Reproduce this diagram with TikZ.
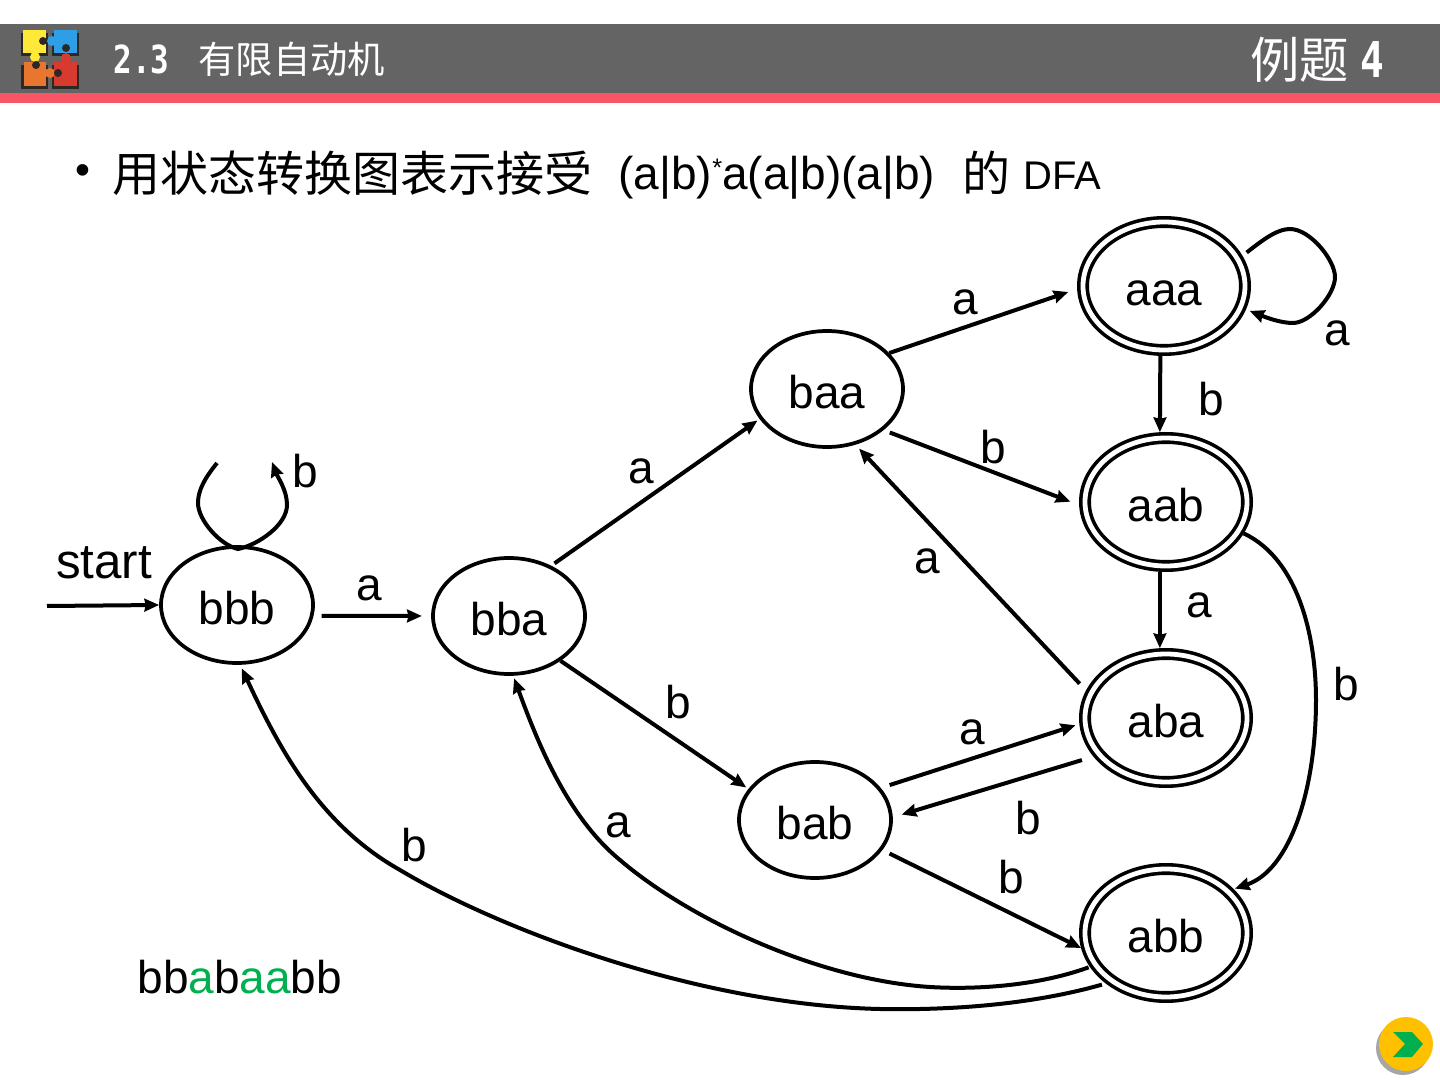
\documentclass[tikz,border=0pt]{standalone}
\usepackage{fontspec}
\setmainfont{Liberation Sans}
\newfontfamily\cjk{Noto Sans CJK SC}
\newfontfamily\headnum{DejaVu Sans Mono}
\usetikzlibrary{arrows.meta,shapes.geometric}
\definecolor{headgray}{RGB}{100,100,100}
\definecolor{headred}{RGB}{248,85,103}
\definecolor{wingreen}{RGB}{0,176,80}
\definecolor{btnorange}{RGB}{255,192,0}
\definecolor{logoyellow}{RGB}{255,232,56}
\definecolor{logoblue}{RGB}{46,159,230}
\definecolor{logoorange}{RGB}{232,118,47}
\definecolor{logored}{RGB}{216,58,48}
\definecolor{logoshadow}{RGB}{45,40,35}
\tikzset{every picture/.style={line width=0.75pt}}
\tikzset{
state/.style={draw,ellipse,line width=2.8pt,minimum width=114pt,minimum height=87pt,inner sep=0pt,outer sep=1.4pt,font=\fontsize{34.5}{38}\selectfont,text height=29pt,text depth=0pt},
accept/.style={draw,ellipse,line width=2.7pt,double,double distance=3.6pt,minimum width=121.5pt,minimum height=96pt,inner sep=0pt,outer sep=4.5pt,font=\fontsize{34.5}{38}\selectfont,text height=29pt,text depth=0pt},
edge/.style={-{Stealth[length=11pt,width=9.5pt,inset=1pt]},line width=3pt,shorten <=4pt,shorten >=5pt},
lab/.style={inner sep=0pt,font=\fontsize{34.5}{38}\selectfont},
headtext/.style={inner sep=0pt,text=white,font=\cjk\fontsize{28}{32}\selectfont},
titletext/.style={inner sep=0pt,font=\cjk\fontsize{36}{40}\selectfont}
}

\begin{document}
\begin{tikzpicture}[x=0.75pt,y=0.75pt,yscale=-1]
\useasboundingbox (0,0) rectangle (1440,1080);

%Header bar
\fill [headgray] (0,24) rectangle (1440,93);
\fill [headred] (0,93) rectangle (1440,103);

%Logo
\fill [logoshadow] (21,33) rectangle (48,56);
\fill [logoshadow] (52,33) rectangle (79,56);
\fill [logoshadow] (21,65) rectangle (48,89);
\fill [logoshadow] (52,65) rectangle (79,89);
\fill [logoyellow] (23,30) rectangle (46,53);
\fill [logoblue] (54,30) rectangle (77,53);
\fill [logoorange] (24,62) rectangle (46,86);
\fill [logored] (54,62) rectangle (77,86);
\fill [logoblue] (52,41) circle (5);
\fill [logoyellow] (35,57) circle (5);
\fill [logored] (66,58) circle (5);
\fill [logoorange] (50,73) circle (5);
\fill [logoshadow] (43,41) circle (4);
\fill [logoshadow] (36,65) circle (4);
\fill [logoshadow] (66,48) circle (4);
\fill [logoshadow] (58,73) circle (4);

% Text Node
\node (secnum) [headtext,anchor=base west,font=\headnum\bfseries\fontsize{29}{32}\selectfont] at (113,74) {\scalebox{0.8}[1]{2.3}};
\node (sectitle) [headtext,anchor=west] at (198,59) {有限自动机};
\node (example) [headtext,anchor=west,font=\cjk\fontsize{37}{40}\selectfont] at (1250,60) {例题};
\node (examplenum) [headtext,anchor=base east,font=\headnum\bfseries\fontsize{37}{40}\selectfont] at (1385,78) {\scalebox{0.8}[1]{4}};

% Text Node
\node (bullet) [inner sep=0pt,font=\fontsize{32}{36}\selectfont] at (83,175) {•};
\node (title) [titletext,anchor=base west] at (112,192) {用状态转换图表示接受};
\node (regex) [inner sep=0pt,anchor=base west,font=\fontsize{34.5}{38}\selectfont] at (618,190) {(a|b)\raisebox{10pt}{\fontsize{19}{20}\selectfont *}a(a|b)(a|b)};
\node (titlede) [titletext,anchor=base west] at (962,192) {的};
\node (dfa) [inner sep=0pt,anchor=base west,font=\fontsize{30}{34}\selectfont] at (1023,190) {DFA};

%Shape: Ellipse
\node (bbb) [state] at (237,605) {bbb};
\node (bba) [state] at (509,616) {bba};
\node (baa) [state] at (827,389) {baa};
\node (bab) [state] at (815,820) {bab};
\node (aaa) [accept] at (1164,286) {aaa};
\node (aab) [accept] at (1166,502) {aab};
\node (aba) [accept] at (1166,718) {aba};
\node (abb) [accept] at (1166,933) {abb};

%Free ends
\coordinate (startin) at (47,606);
\coordinate (loopa) at (217,463);
\coordinate (loopb) at (272,462);

%Straight Lines
\draw [edge,shorten <=0pt,shorten >=0pt] (startin) -- (bbb.west);
\draw [edge,shorten <=6pt,shorten >=7pt] (bbb.-8) -- (bba.180);
\draw [edge,shorten <=3pt,shorten >=2pt] (bba.50) -- (baa.204);
\draw [edge,shorten <=0pt,shorten >=2pt] (bba.-41) -- (bab.155);
\draw [edge,shorten <=0pt,shorten >=7pt] (baa.30) -- (aaa.182);
\draw [edge,shorten <=5pt,shorten >=7pt] (baa.-36) -- (aab.182);
\draw [edge,shorten <=0pt,shorten >=0pt] (aaa.-93) -- (aab.95);
\draw [edge,shorten <=0pt,shorten >=0pt] (aab.-95) -- (aba.95);
\draw [edge,shorten <=7pt,shorten >=4pt] (aba.161) -- (baa.-63);
\draw [edge,shorten <=9pt,shorten >=7pt] (aba.208) -- (bab.2);
\draw [edge,shorten <=7pt,shorten >=3pt] (bab.26) -- (aba.184);
\draw [edge,shorten <=6pt,shorten >=0pt] (bab.-24) -- (abb.190);

%Curve Lines
\draw [edge,shorten <=0pt,shorten >=1pt] (aab.-22) .. controls (1300,560) and (1316,640) .. (1316,700) .. controls (1316,790) and (1290,870) .. (abb.33);
\draw [edge,shorten <=1pt,shorten >=2pt] (abb.204) .. controls (1040,985) and (980,990) .. (930,987) .. controls (820,980) and (690,920) .. (620,860) .. controls (565,815) and (535,735) .. (bba.-86);
\draw [edge,shorten <=3pt,shorten >=3pt] (abb.220) .. controls (1020,1008) and (930,1010) .. (880,1009) .. controls (700,1005) and (500,930) .. (400,870) .. controls (320,825) and (280,750) .. (bbb.-87);
\draw [edge,shorten <=0pt,shorten >=0pt] (loopa) .. controls (205,478) and (198,490) .. (198,503) .. controls (198,520) and (220,545) .. (238,549) .. controls (258,545) and (287,525) .. (287,505) .. controls (287,490) and (278,478) .. (loopb);
\draw [edge,shorten <=4pt,shorten >=3pt] (aaa.21) .. controls (1265,238) and (1278,229) .. (1290,229) .. controls (1310,229) and (1335,260) .. (1335,277) .. controls (1335,295) and (1310,323) .. (1293,323) .. controls (1280,323) and (1265,317) .. (aaa.-16);

% Text Node
\node (labstart) [lab,font=\fontsize{37}{40}\selectfont] at (104,563) {start};
\node (labbbbb) [lab] at (305,471) {b};
\node (labbbba) [lab] at (369,588) {a};
\node (labbbaa) [lab] at (641,471) {a};
\node (labbbab) [lab] at (678,702) {b};
\node (labbaaa) [lab] at (965,302) {a};
\node (labbaab) [lab] at (993,447) {b};
\node (labaaaa) [lab] at (1337,333) {a};
\node (labaaab) [lab] at (1211,399) {b};
\node (labaaba) [lab] at (1199,605) {a};
\node (labaabb) [lab] at (1346,684) {b};
\node (labababaa) [lab] at (927,561) {a};
\node (labbabaa) [lab] at (972,732) {a};
\node (lababab) [lab] at (1028,818) {b};
\node (labbabb) [lab] at (1011,877) {b};
\node (labbbbback) [lab] at (414,845) {b};
\node (labbback) [lab] at (618,825) {a};
\node (sample) [lab,anchor=west] at (137,977) {bb\textcolor{wingreen}{a}b\textcolor{wingreen}{aa}bb};

%Button
\fill [black!35] (1403,1048) circle (27);
\fill [btnorange] (1406,1044) circle (27);
\fill [wingreen] (1393,1032) -- (1412,1032) -- (1423,1044) -- (1412,1057) -- (1393,1057) -- (1405,1044) -- cycle;

\end{tikzpicture}
\end{document}
